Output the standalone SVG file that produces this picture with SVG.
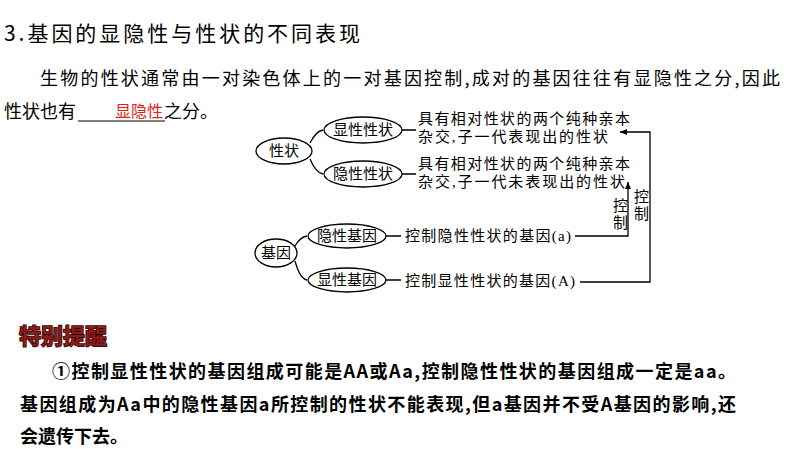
<svg xmlns="http://www.w3.org/2000/svg" width="794" height="449" viewBox="0 0 794 449">
<style>
.t{font-family:"Noto Sans CJK SC","Noto Sans",sans-serif;fill:#000}
.d{font-family:"Liberation Serif","Noto Sans CJK SC",serif;font-size:15px;fill:#000}
.e{fill:#fff;stroke:#000;stroke-width:1.3}
.c{fill:none;stroke:#000;stroke-width:1.3}
</style>
<defs><marker id="a" markerWidth="8" markerHeight="8" refX="7" refY="4" orient="auto" markerUnits="userSpaceOnUse"><path d="M0,1 L7,4 L0,7 z" fill="#000"/></marker></defs>
<rect width="794" height="449" fill="#fff"/>
<text class="t" x="4" y="41" font-size="21" textLength="356">3.基因的显隐性与性状的不同表现</text>
<text class="t" x="40" y="85" font-size="18" textLength="740">生物的性状通常由一对染色体上的一对基因控制,成对的基因往往有显隐性之分,因此</text>
<text class="t" x="4" y="118" font-size="18">性状也有</text>
<line x1="78" y1="121" x2="165" y2="121" stroke="#000" stroke-width="1"/>
<text class="t" x="115" y="117" font-size="16" style="fill:#e02020">显隐性</text>
<text class="t" x="164" y="118" font-size="18">之分。</text>
<g id="connectors">
<path class="c" d="M310,143 Q316,131 323,130 M310,159 Q316,173 323,174"/>
<path class="c" d="M402,130 H416 M402,174 H416"/>
<path class="c" d="M295,246 Q300,237 307,236 M295,261 Q300,279 307,280"/>
<path class="c" d="M386,236 H401 M386,280 H401"/>
<path class="c" d="M575,236 H628 V182" marker-end="url(#a)"/>
<path class="c" d="M580,282 H650 V132 H620" marker-end="url(#a)"/>
</g>
<g id="n1"><ellipse class="e" cx="284" cy="151" rx="28" ry="13"/><text class="d" x="284" y="156" text-anchor="middle">性状</text></g>
<g id="n2"><ellipse class="e" cx="363" cy="130" rx="39" ry="13"/><text class="d" x="363" y="135" text-anchor="middle">显性性状</text></g>
<g id="n3"><ellipse class="e" cx="363" cy="174" rx="39" ry="13"/><text class="d" x="363" y="179" text-anchor="middle">隐性性状</text></g>
<g id="n4"><ellipse class="e" cx="276" cy="253" rx="21" ry="14"/><text class="d" x="276" y="258" text-anchor="middle">基因</text></g>
<g id="n5"><ellipse class="e" cx="347" cy="236" rx="39" ry="12"/><text class="d" x="347" y="241" text-anchor="middle">隐性基因</text></g>
<g id="n6"><ellipse class="e" cx="347" cy="280" rx="39" ry="12"/><text class="d" x="347" y="285" text-anchor="middle">显性基因</text></g>
<g id="d1"><text class="d" x="418" y="124" textLength="212">具有相对性状的两个纯种亲本</text><text class="d" x="418" y="142" textLength="190">杂交,子一代表现出的性状</text></g>
<g id="d2"><text class="d" x="418" y="169" textLength="212">具有相对性状的两个纯种亲本</text><text class="d" x="418" y="187" textLength="207">杂交,子一代未表现出的性状</text></g>
<text class="d" x="405" y="241" textLength="166">控制隐性性状的基因(a)</text>
<text class="d" x="405" y="286" textLength="170">控制显性性状的基因(A)</text>
<text class="d" x="613" y="211">控</text><text class="d" x="613" y="228">制</text>
<text class="d" x="634" y="202">控</text><text class="d" x="634" y="219">制</text>
<text class="t" x="19" y="344" font-size="22" font-weight="bold" style="fill:#8b1a1a;stroke:#2a0000;stroke-width:1.5;paint-order:stroke">特别提醒</text>
<text class="t" x="52" y="378" font-size="18" font-weight="bold" textLength="684">①控制显性性状的基因组成可能是AA或Aa,控制隐性性状的基因组成一定是aa。</text>
<text class="t" x="20" y="411" font-size="18" font-weight="bold" textLength="716">基因组成为Aa中的隐性基因a所控制的性状不能表现,但a基因并不受A基因的影响,还</text>
<text class="t" x="20" y="443" font-size="18" font-weight="bold">会遗传下去。</text>
</svg>
